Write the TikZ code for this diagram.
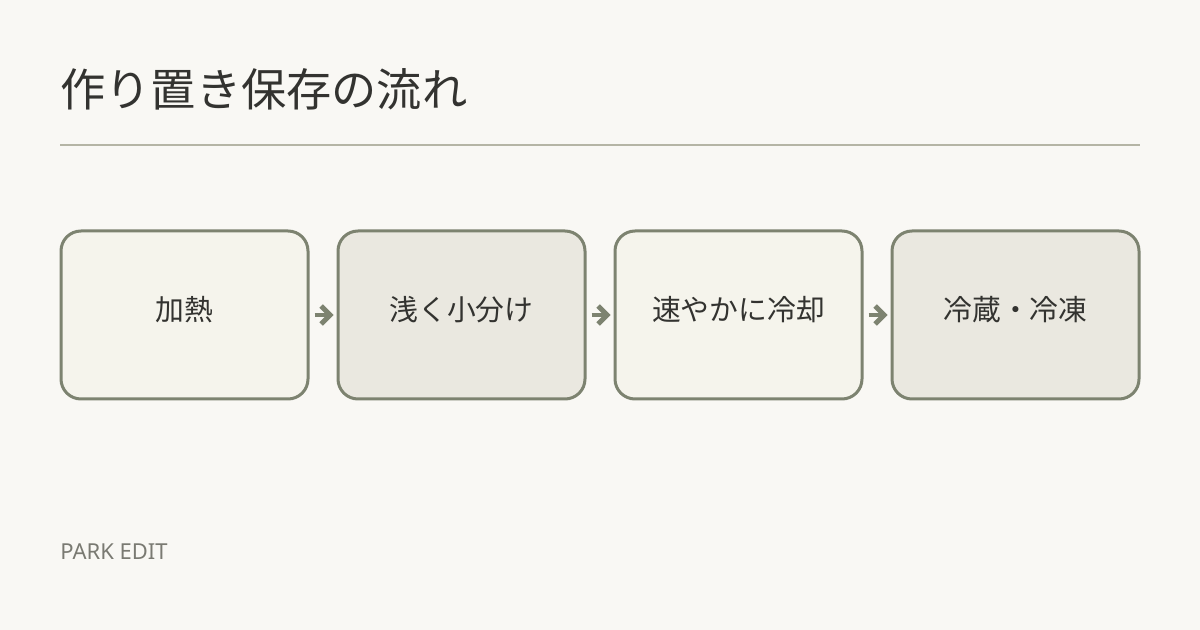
\documentclass[tikz,border=0pt]{standalone}
\usepackage{fontspec}
\usepackage{xcolor}
\usetikzlibrary{arrows.meta}
\setmainfont{Noto Sans}
\newfontfamily\jpfont{Noto Sans CJK JP}
\definecolor{paper}{HTML}{F9F8F4}
\definecolor{ink}{HTML}{333330}
\definecolor{edge}{HTML}{7D8370}
\definecolor{rule}{HTML}{B5B5A5}
\definecolor{lightfill}{HTML}{F5F4EC}
\definecolor{darkfill}{HTML}{EAE8E0}
\definecolor{brand}{HTML}{7A7A72}
\tikzset{
  stepbox/.style={rectangle, rounded corners=20*0.5pt, draw=edge, line width=1.5pt,
    minimum width=247*0.5pt, minimum height=168*0.5pt, text=ink, text height=12.5pt, text depth=7pt,
    font=\jpfont\fontsize{14.4pt}{17pt}\selectfont},
  flow/.style={draw=edge, line width=2.4pt, -{Straight Barb[length=4.5pt, width=9pt]}, shorten <=2.5pt, shorten >=1.5pt}
}
\begin{document}
\begin{tikzpicture}[x=0.5pt, y=-0.5pt]
                \fill[paper] (0,0) rectangle (1200,630);
                \useasboundingbox (0,0) rectangle (1200,630);
                % Title and rule
                \node[anchor=west, inner sep=0pt, text=ink, font=\jpfont\fontsize{22.6pt}{26pt}\selectfont] (title) at (60, 89) {作り置き保存の流れ};
                \draw[rule, line width=1pt] (60, 145) -- (1140, 145);
                % Nodes
                \node[stepbox, fill=lightfill] (1) at (184.5, 315) {加熱};          % Step 1
                \node[stepbox, fill=darkfill] (2) at (461.5, 315) {浅く小分け};     % Step 2
                \node[stepbox, fill=lightfill] (3) at (738.5, 315) {速やかに冷却};  % Step 3
                \node[stepbox, fill=darkfill] (4) at (1015.5, 315) {冷蔵・冷凍};    % Step 4
                % Edges
                \draw[flow] (1) -- (2);
                \draw[flow] (2) -- (3);
                \draw[flow] (3) -- (4);
                % Footer
                \node[anchor=west, inner sep=0pt, text=brand, font=\fontsize{11pt}{13pt}\selectfont] (brand) at (60, 552) {PARK EDIT};
            \end{tikzpicture}
\end{document}
